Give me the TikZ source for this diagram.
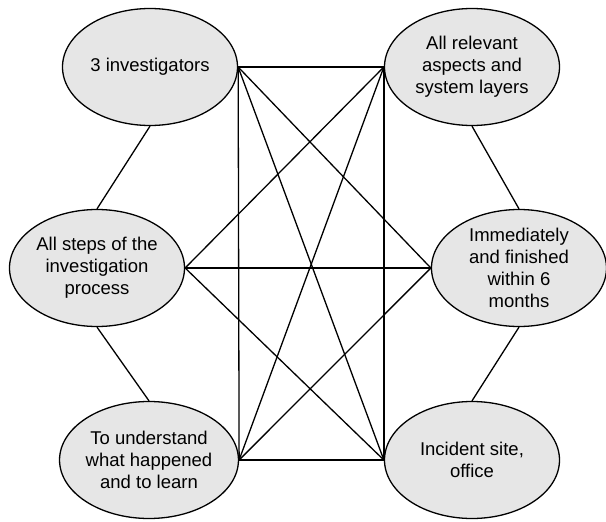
\documentclass[tikz,border=0pt]{standalone}
\usepackage{fontspec}
\setmainfont{Liberation Sans}
\usetikzlibrary{shapes.geometric}
\definecolor{ellfill}{HTML}{E6E6E6}
\tikzset{
  ell/.style={ellipse, draw=black, line width=1.3pt, fill=ellfill, minimum width=175pt, minimum height=117pt, inner sep=0pt, align=center, font=\fontsize{18.5}{22}\selectfont},
  conn/.style={draw=black, line width=1.3pt}
}
\begin{document}
\begin{tikzpicture}[x=1pt,y=-1pt]
\useasboundingbox (0,0) rectangle (606,522);
\node[ell] (inv) at (150,67) {3 investigators};
\node[ell] (rel) at (472,67) {All relevant\\aspects and\\system layers};
\node[ell] (steps) at (97,268) {All steps of the\\investigation\\process};
\node[ell] (imm) at (519,268) {Immediately\\and finished\\within 6\\months};
\node[ell] (und) at (149,460) {To understand\\what happened\\and to learn};
\node[ell] (inc) at (472,460) {Incident site,\\office};
% hexagon sides
\draw[conn] (inv.south) -- (steps.north);
\draw[conn] (steps.south) -- (und.north);
\draw[conn] (rel.south) -- (imm.north);
\draw[conn] (imm.south) -- (inc.north);
% verticals
\draw[conn] (inv.east) -- (und.east);
\draw[conn] (rel.west) -- (inc.west);
% left to right
\foreach \a in {inv.east,steps.east,und.east}{
  \foreach \b in {rel.west,imm.west,inc.west}{
    \draw[conn] (\a) -- (\b);
  }
}
\end{tikzpicture}
\end{document}
